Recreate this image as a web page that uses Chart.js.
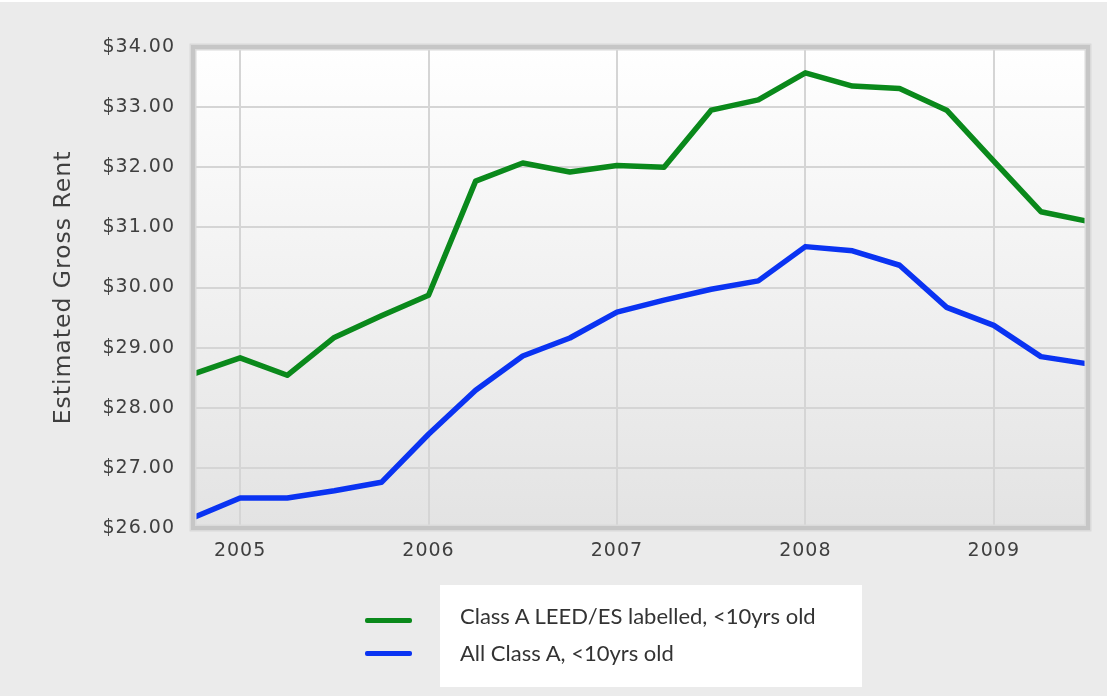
<!DOCTYPE html>
<html>
<head>
<meta charset="utf-8">
<script src="https://cdn.jsdelivr.net/npm/chart.js@4.4.1/dist/chart.umd.min.js"></script>
<style>
  html, body { margin: 0; padding: 0; background: #ffffff; }
  #wrap { position: relative; width: 1107px; height: 696px; background: #ebebeb; overflow: hidden; }
  #topStrip { position: absolute; left: 0; top: 0; width: 1107px; height: 2px; background: #ffffff; }
  #rentChart { position: absolute; left: 0; top: 0; }
  #legendBox {
    position: absolute; left: 440px; top: 585px; width: 422px; height: 102px;
    background: #ffffff;
  }
  .legend-swatch { position: absolute; left: -75px; width: 47px; height: 5px; border-radius: 2px; }
  .legend-text {
    position: absolute; left: 20px; white-space: nowrap;
    font-family: Lato, "Open Sans", sans-serif; font-size: 22px; color: #333333; line-height: 24px;
  }
</style>
</head>
<body>
<div id="wrap">
  <canvas id="rentChart" width="1107" height="696"></canvas>
  <div id="topStrip"></div>
  <div id="legendBox"></div>
</div>
<script>
/* Estimated gross rent, quarterly */
const quarters = [
  "Q4 2004", "Q1 2005", "Q2 2005", "Q3 2005", "Q4 2005",
  "Q1 2006", "Q2 2006", "Q3 2006", "Q4 2006",
  "Q1 2007", "Q2 2007", "Q3 2007", "Q4 2007",
  "Q1 2008", "Q2 2008", "Q3 2008", "Q4 2008",
  "Q1 2009", "Q2 2009", "Q3 2009"
];
const leedRent = [
  28.56, 28.83, 28.54, 29.17, 29.53,
  29.87, 31.77, 32.07, 31.92,
  32.03, 32.00, 32.95, 33.12,
  33.57, 33.35, 33.31, 32.95,
  32.10, 31.26, 31.10
];
const allClassARent = [
  26.17, 26.50, 26.50, 26.62, 26.76,
  27.56, 28.29, 28.86, 29.16,
  29.59, 29.79, 29.97, 30.11,
  30.68, 30.61, 30.37, 29.67,
  29.37, 28.85, 28.73
];
const seriesNames = ["Class A LEED/ES labelled, <10yrs old", "All Class A, <10yrs old"];
const seriesColors = ["#0a891b", "#0a33f2"];
const yTicks = [26, 27, 28, 29, 30, 31, 32, 33, 34];

const axisFont = "'DejaVu Sans', Verdana, sans-serif";
const isYearStart = i => quarters[i] && quarters[i].startsWith("Q1");

const plotFrame = {
  id: "plotFrame",
  beforeDraw(chart) {
    const { ctx, chartArea: a } = chart;
    const g = ctx.createLinearGradient(0, a.top, 0, a.bottom);
    g.addColorStop(0, "#ffffff");
    g.addColorStop(1, "#e3e3e3");
    ctx.save();
    ctx.fillStyle = g;
    ctx.fillRect(a.left, a.top, a.right - a.left, a.bottom - a.top);
    ctx.restore();
    // the original axis text is a little tracked out
    ctx.letterSpacing = "1px";
  },
  afterDatasetsDraw(chart) {
    const { ctx, chartArea: a } = chart;
    ctx.save();
    ctx.strokeStyle = "#dadada";
    ctx.lineWidth = 7;
    ctx.strokeRect(a.left, a.top, a.right - a.left, a.bottom - a.top);
    ctx.strokeStyle = "#c6c6c6";
    ctx.lineWidth = 4;
    ctx.strokeRect(a.left, a.top, a.right - a.left, a.bottom - a.top);
    ctx.restore();
  }
};

const chart = new Chart(document.getElementById("rentChart"), {
  type: "line",
  data: {
    labels: quarters,
    datasets: [
      { label: seriesNames[0], data: leedRent, borderColor: seriesColors[0] },
      { label: seriesNames[1], data: allClassARent, borderColor: seriesColors[1] }
    ]
  },
  options: {
    responsive: false,
    animation: false,
    layout: { padding: { top: 47, right: 19, left: 0, bottom: 0 } },
    elements: {
      line: { borderWidth: 5.5, tension: 0, borderCapStyle: "round", borderJoinStyle: "round" },
      point: { radius: 0, hoverRadius: 0 }
    },
    plugins: { legend: { display: false }, tooltip: { enabled: false } },
    scales: {
      x: {
        offset: false,
        afterFit(scale) { scale.height = 168; },
        border: { display: false },
        grid: {
          drawTicks: false,
          lineWidth: 2,
          color: ctx => isYearStart(ctx.index) ? "#d5d5d5" : "rgba(0,0,0,0)"
        },
        ticks: {
          autoSkip: false,
          maxRotation: 0,
          padding: 12,
          color: "#3f3f3f",
          font: { family: axisFont, size: 19 },
          callback: (v, i) => isYearStart(i) ? quarters[i].slice(3) : ""
        }
      },
      y: {
        min: yTicks[0],
        max: yTicks[yTicks.length - 1],
        afterFit(scale) { scale.width = 193; },
        afterBuildTicks(scale) { scale.ticks = yTicks.map(v => ({ value: v })); },
        border: { display: false },
        grid: { drawTicks: false, lineWidth: 2, color: "#d5d5d5" },
        ticks: {
          padding: 18,
          color: "#3f3f3f",
          font: { family: axisFont, size: 19 },
          callback: v => "$" + v.toFixed(2)
        },
        title: {
          display: true,
          text: "Estimated Gross Rent",
          color: "#3f3f3f",
          font: { family: axisFont, size: 23.5 },
          padding: { top: 50 }
        }
      }
    }
  },
  plugins: [plotFrame]
});

// legend built from the datasets
const box = document.getElementById("legendBox");
const swatchTops = [33, 66];
const textTops = [19, 56];
chart.data.datasets.forEach((ds, i) => {
  const sw = document.createElement("div");
  sw.className = "legend-swatch";
  sw.style.top = swatchTops[i] + "px";
  sw.style.background = ds.borderColor;
  const tx = document.createElement("div");
  tx.className = "legend-text";
  tx.style.top = textTops[i] + "px";
  tx.textContent = ds.label;
  box.appendChild(sw);
  box.appendChild(tx);
});
</script>
</body>
</html>
